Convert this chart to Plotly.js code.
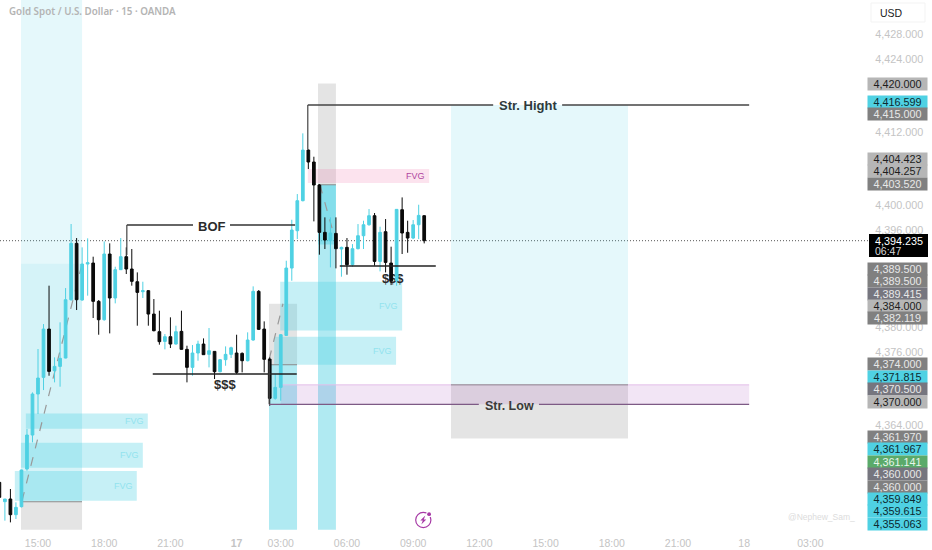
<!DOCTYPE html>
<html><head><meta charset="utf-8">
<script src="https://cdn.plot.ly/plotly-3.0.1.min.js"></script>
<style>html,body{margin:0;padding:0;background:#fff}#c{width:932px;height:550px}</style>
</head><body><div id="c"></div>
<script>
// 15-minute bars, first bar is index -7; index 0 is the 15:00 bar
const opens=[4354.62,4351.45,4351.89,4349.32,4350.63,4356.81,4362.38,4369.10,4371.83,4379.75,4372.92,4373.63,4375.00,4384.56,4393.80,4384.51,4390.41,4390.57,4384.29,4381.28,4392.05,4384.84,4389.48,4391.61,4389.59,4387.51,4385.87,4386.04,4382.21,4379.32,4377.73,4378.50,4377.29,4379.37,4376.42,4373.47,4375.82,4377.29,4375.60,4376.09,4372.76,4374.73,4375.60,4375.82,4375.76,4374.56,4377.95,4385.93,4379.75,4374.83,4368.39,4370.19,4378.71,4389.75,4395.87,4400.79,4409.09,4407.13,4403.36,4395.60,4394.23,4395.43,4392.87,4393.14,4390.30,4392.92,4395.05,4396.85,4398.33,4390.84,4395.71,4390.57,4387.67,4399.31,4395.60,4394.67,4396.85,4398.33];
const highs=[4354.90,4351.89,4353.53,4351.34,4356.70,4363.36,4369.37,4376.48,4380.57,4386.86,4375.11,4380.85,4386.47,4396.97,4394.67,4393.14,4394.62,4391.61,4384.51,4394.12,4393.80,4389.97,4394.67,4393.14,4392.87,4389.04,4387.51,4386.15,4384.67,4382.76,4378.93,4381.67,4380.30,4382.76,4377.02,4377.13,4377.84,4378.22,4379.92,4376.09,4374.84,4376.91,4376.86,4378.82,4375.93,4379.21,4386.75,4386.14,4381.01,4375.11,4372.38,4378.93,4390.95,4397.67,4401.88,4411.83,4409.20,4408.00,4403.52,4398.06,4398.06,4398.06,4393.25,4394.67,4393.68,4396.96,4397.51,4399.42,4398.77,4396.53,4397.78,4393.25,4399.42,4401.33,4397.51,4397.62,4400.13,4398.40];
const lows=[4352.00,4348.34,4348.06,4348.61,4350.50,4356.53,4361.18,4365.82,4369.75,4372.10,4371.01,4370.30,4374.95,4384.40,4382.87,4384.40,4385.22,4381.56,4378.82,4381.12,4379.04,4383.96,4389.43,4388.77,4386.86,4380.30,4384.84,4380.30,4379.37,4377.19,4376.42,4376.64,4377.19,4376.37,4371.01,4372.10,4374.56,4375.55,4373.47,4371.56,4372.65,4373.74,4375.00,4372.38,4372.65,4374.45,4377.84,4379.59,4372.65,4367.18,4368.17,4368.00,4378.66,4387.67,4394.50,4400.68,4405.98,4397.40,4391.94,4392.87,4389.86,4389.70,4388.33,4388.66,4389.97,4392.81,4392.87,4396.69,4390.13,4389.20,4389.04,4386.96,4386.85,4392.05,4392.26,4394.50,4394.50,4393.79];
const closes=[4352.16,4351.89,4349.32,4350.52,4356.64,4362.38,4369.10,4371.72,4379.75,4372.81,4373.63,4374.95,4384.56,4393.80,4384.56,4390.41,4390.63,4384.29,4381.28,4392.05,4384.84,4389.48,4391.61,4389.59,4387.57,4385.76,4386.04,4382.21,4379.48,4377.68,4378.50,4377.29,4379.32,4376.42,4373.47,4375.82,4377.29,4375.55,4376.20,4372.76,4374.73,4375.60,4376.69,4372.65,4374.56,4377.95,4385.93,4379.70,4374.78,4368.39,4370.19,4378.82,4389.75,4395.98,4400.79,4409.09,4407.13,4403.36,4395.60,4394.34,4395.49,4392.92,4393.14,4390.30,4392.92,4395.05,4396.85,4398.33,4390.84,4395.60,4390.68,4387.67,4399.37,4395.49,4394.67,4396.85,4398.38,4394.235];
const firstBar=-7;

const xTickBars=[0,12,24,36,44,56,68,80,92,104,116,128,140];
const xTickText=['15:00','18:00','21:00','<b>17</b>','03:00','06:00','09:00','12:00','15:00','18:00','21:00','18','03:00'];
const yTickVals=[4428,4424,4412,4400,4396,4380,4376,4364];
const yTickText=['4,428.000','4,424.000','4,412.000','4,400.000','4,396.000','4,380.000','4,376.000','4,364.000'];

// zones: [startBar, endBar, topPrice, bottomPrice]
const fvgCyan=[[-2.2,19.9,4365.9,4363.4],[-3.1,19.0,4361.1,4357.0],[-4.2,17.9,4356.5,4351.6],[43.9,66.0,4387.5,4379.5],[42.8,64.9,4378.5,4373.9]];
const fvgPink=[[48.9,70.9,4406.0,4403.7]];
const purpleZone=[[44.0,128.9,4370.6,4367.41]];
const paleCyan=[[-3.08,7.98,4433.7,4351.44],[74.86,106.94,4416.48,4370.6]];
const midCyan=[[-3.08,7.98,4390.46,4351.44]];
const strongCyan=[[41.87,46.95,4373.9,4346.85],[50.75,54.0,4403.4,4346.85],[50.75,54.0,4403.4,4393.6]];
const greyZones=[[-3.08,7.98,4351.44,4346.85],[41.87,46.95,4383.9,4373.9],[50.75,54.0,4420.0,4403.4],[74.86,106.94,4370.6,4361.8]];

// levels: [startBar, endBar, price]
const strHigh=[[48.9,82.5,4416.48],[95.0,128.9,4416.48]];
const strLow=[[41.9,79.9,4367.41],[90.8,128.9,4367.41]];
const bof=[[16.1,28.1,4396.8],[34.8,46.6,4396.8]];
const sweeps=[[20.8,46.9,4372.38],[54.7,72.1,4390.08]];
const boundaries=[[-3.08,7.98,4351.44],[41.87,46.95,4373.9],[50.75,54.0,4403.4],[74.86,106.94,4370.6]];
// vertical stems: [bar, topPrice, bottomPrice]
const stems=[[48.9,4416.48,4409.2],[16.1,4396.8,4391.9],[41.9,4374.5,4367.41]];
// dashed guides: [bar0, price0, bar1, price1]
const guides=[[-2.9,4351.6,8.0,4390.46],[41.9,4374.8,44.4,4383.9],[51.1,4403.4,54.0,4394.0]];

const priceLast=4394.235;

const sideLabels=['4,420.000','4,416.599','4,415.000','4,404.423','4,404.257','4,403.520','4,389.500','4,389.500','4,389.415','4,384.000','4,382.119','4,374.000','4,371.815','4,370.500','4,370.000','4,361.970','4,361.967','4,361.141','4,360.000','4,360.000','4,359.849','4,359.615','4,355.063'];
const sideKinds=['light','cyan','dark','light','light','dark','dark','dark','slate','light','dark','dark','cyan','slate','light','dark','cyan','green','slate','dark','cyan','cyan','cyan'];
const sideRows=[83.5,102,114,159,171,184,269,281,294,306,318,364,377,389,402,437,449,462,474,487,499,511,524];

const CYAN='#4fd1e3';
const kindStyle={light:['#b6b6b6','#1c1c1c'],dark:['#808080','#e8e8e8'],slate:['#76767f','#e8e8e8'],cyan:[CYAN,'#0d2a30'],green:['#5aaa6a','#e8f5ea']};
const H=530;
const shapes=[];
function zone(list,fill){list.forEach(z=>shapes.push({type:'rect',layer:'below',xref:'x',yref:'y',x0:z[0],x1:z[1],y0:z[3],y1:z[2],fillcolor:fill,line:{width:0}}));}
function rule(list,color,width,layer){list.forEach(l=>shapes.push({type:'line',layer:layer||'above',xref:'x',yref:'y',x0:l[0],x1:l[1],y0:l[2],y1:l[2],line:{color:color,width:width}}));}
zone(paleCyan,'rgba(79,209,227,0.15)');
zone(midCyan,'rgba(79,209,227,0.10)');
zone(greyZones,'rgba(120,120,120,0.2)');
zone(strongCyan,'rgba(79,209,227,0.45)');
zone(fvgCyan,'rgba(79,209,227,0.32)');
zone(fvgPink,'rgba(236,100,160,0.18)');
zone(purpleZone,'rgba(170,80,190,0.15)');
shapes.push({type:'line',layer:'below',xref:'x',yref:'y',x0:44,x1:128.9,y0:4370.6,y1:4370.6,line:{color:'#e3bfea',width:1}});
rule(boundaries,'#8a8a8a',1,'below');
rule(strHigh,'#444',1.4);
rule(bof,'#333',1.4);
rule(sweeps,'#222',1.4);
rule(strLow,'#7d5a85',1.4);
stems.forEach(s=>shapes.push({type:'line',layer:'above',xref:'x',yref:'y',x0:s[0],x1:s[0],y0:s[2],y1:s[1],line:{color:'#444',width:1.2}}));
guides.forEach(g=>shapes.push({type:'line',layer:'below',xref:'x',yref:'y',x0:g[0],x1:g[2],y0:g[1],y1:g[3],line:{color:'#999',width:1.2,dash:'dash'}}));
shapes.push({type:'line',layer:'below',xref:'paper',yref:'y',x0:0,x1:1,y0:priceLast,y1:priceLast,line:{color:'#555',width:1,dash:'1px,2px'}});
// caption that sits under the candles
shapes.push({type:'rect',layer:'below',xref:'x',yref:'y',x0:62.3,x1:66.3,y0:4387.2,y1:4389.2,fillcolor:'rgba(0,0,0,0)',line:{width:0},label:{text:'<b>$$$</b>',textposition:'middle center',font:{family:'Liberation Sans',size:13,color:'#2b2b2b'}}});
// black last-price tag
shapes.push({type:'rect',layer:'above',xref:'paper',yref:'paper',xsizemode:'pixel',ysizemode:'pixel',xanchor:1,yanchor:1,x0:1,x1:60,y0:-234,y1:-257,fillcolor:'#000',line:{width:0}});
// side-scale price tags
const ann=[];
sideLabels.forEach((t,i)=>{const k=kindStyle[sideKinds[i]];
 ann.push({xref:'paper',yref:'paper',x:1,xanchor:'left',xshift:-1,y:1-sideRows[i]/H,yanchor:'middle',text:t,showarrow:false,width:59,height:12.4,borderpad:0,bgcolor:k[0],align:'center',font:{family:'Liberation Sans',size:10.8,color:k[1]}});});
ann.push({xref:'paper',yref:'paper',x:1,xanchor:'left',xshift:5,y:1-241/H,yanchor:'middle',text:'4,394.235',showarrow:false,font:{family:'Liberation Sans',size:10.8,color:'#fff'}});
ann.push({xref:'paper',yref:'paper',x:1,xanchor:'left',xshift:5,y:1-251/H,yanchor:'middle',text:'06:47',showarrow:false,font:{family:'Liberation Sans',size:10.5,color:'#d8d8d8'}});
// FVG captions
function cap(list,col){list.forEach(z=>ann.push({xref:'x',yref:'y',x:z[1],y:(z[2]+z[3])/2,xanchor:'right',xshift:-2,yanchor:'middle',text:'FVG',showarrow:false,font:{family:'Liberation Sans',size:9,color:col}}));}
cap(fvgCyan,'#92e3ee');cap(fvgPink,'#b0469f');
function lab(t,x,y,size,col){ann.push({xref:'x',yref:'y',x:x,y:y,xanchor:'center',yanchor:'middle',text:'<b>'+t+'</b>',showarrow:false,font:{family:'Liberation Sans',size:size,color:col}});}
lab('BOF',31.5,4396.64,13,'#2b2b2b');
lab('Str. Hight',88.9,4416.36,13,'#2f3a3c');
lab('Str. Low',85.4,4367.13,12.5,'#3a3a3a');
lab('$$$',33.9,4370.74,13,'#2b2b2b');
ann.push({xref:'paper',yref:'paper',x:7/868,xanchor:'left',y:1-11.5/H,yanchor:'middle',text:'Gold Spot / U.S. Dollar · 15 · OANDA',showarrow:false,font:{family:'Noto Sans',size:9.8,color:'#b4b4b4',weight:600}});
ann.push({xref:'paper',yref:'paper',x:1,xanchor:'left',xshift:10,y:1-13/H,yanchor:'middle',text:'USD',showarrow:false,font:{family:'Liberation Sans',size:10.5,color:'#222'}});
ann.push({xref:'paper',yref:'paper',x:857/868,xanchor:'right',y:1-517/H,yanchor:'middle',text:'@Nephew_Sam_',showarrow:false,font:{family:'Liberation Sans',size:8.5,color:'#dcdcdc'}});
// USD box
shapes.push({type:'rect',xref:'paper',yref:'paper',xsizemode:'pixel',ysizemode:'pixel',xanchor:1,yanchor:1,x0:3,x1:57,y0:-3,y1:-22,line:{color:'#f3f3f3',width:1},fillcolor:'#fff',layer:'above'});
// emblem
const ex=423.3/868, ey=1-520/H;
const em={xref:'paper',yref:'paper',xsizemode:'pixel',ysizemode:'pixel',xanchor:ex,yanchor:ey,layer:'above'};
shapes.push(Object.assign({type:'circle',x0:-7.6,x1:7.6,y0:-7.6,y1:7.6,fillcolor:'rgba(0,0,0,0)',line:{color:'#a73ba6',width:1.2}},em));
shapes.push(Object.assign({type:'circle',x0:2.8,x1:8.8,y0:2.8,y1:8.8,fillcolor:'#fff',line:{width:0}},em));
shapes.push(Object.assign({type:'circle',x0:3.9,x1:7.7,y0:3.9,y1:7.7,fillcolor:'#a73ba6',line:{width:0}},em));
shapes.push(Object.assign({type:'path',path:'M 2 4.5 L -3 -0.5 L -0.5 -0.5 L -2 -4.5 L 3 0.5 L 0.5 0.5 Z',fillcolor:'#a73ba6',line:{width:0}},em));

const trace={type:'candlestick',x:opens.map((_,i)=>i+firstBar),open:opens,high:highs,low:lows,close:closes,whiskerwidth:0,
 increasing:{line:{color:CYAN,width:1},fillcolor:CYAN},decreasing:{line:{color:'#0a0a0a',width:1},fillcolor:'#0a0a0a'},hoverinfo:'skip',showlegend:false};
const layout={width:932,height:550,margin:{l:0,r:64,t:0,b:20},paper_bgcolor:'#fff',plot_bgcolor:'#fff',showlegend:false,boxgap:0.3,
 xaxis:{range:[-6.888,150.44],type:'linear',tickvals:xTickBars,ticktext:xTickText,showgrid:false,zeroline:false,showline:false,ticks:'outside',ticklen:3,tickcolor:'rgba(0,0,0,0)',rangeslider:{visible:false},tickfont:{family:'Liberation Sans',size:10.5,color:'#c4c4c4'},automargin:false},
 yaxis:{side:'right',range:[4346.81,4433.69],tickvals:yTickVals,ticktext:yTickText,showgrid:false,zeroline:false,showline:false,ticks:'outside',ticklen:4,tickcolor:'rgba(0,0,0,0)',tickfont:{family:'Liberation Sans',size:10.8,color:'#c4c4c4'},automargin:false},
 shapes:shapes,annotations:ann};
Plotly.newPlot('c',[trace],layout,{displayModeBar:false,staticPlot:true});
</script></body></html>
